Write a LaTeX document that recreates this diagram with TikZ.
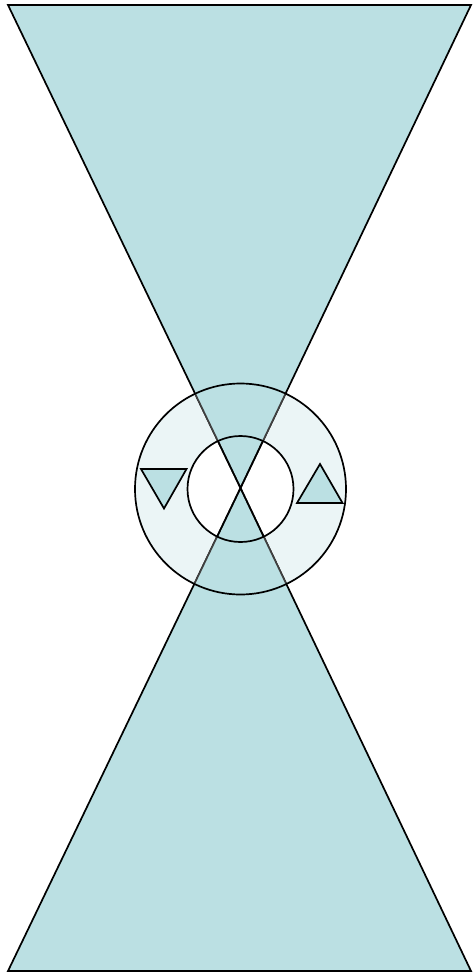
\documentclass[tikz,border=0pt]{standalone}
\definecolor{teal1}{HTML}{BBE0E3}
\definecolor{teal2}{HTML}{EBF5F6}
\begin{document}
\begin{tikzpicture}[x=1pt,y=-1pt,
  edge/.style={draw=black,line width=1.7pt,line join=miter},
  tri/.style={fill=teal1,draw=black,line width=1.7pt}]
\useasboundingbox (0,0) rectangle (473,974);
\coordinate (c) at (240.5,489);
\coordinate (tl) at (8,5);
\coordinate (tr) at (471,5);
\coordinate (bl) at (8,971);
\coordinate (br) at (471,971);
\coordinate (ap) at (240.5,488);
% annulus fill
\fill[teal2] (c) circle (105.5);
\fill[white] (c) circle (53);
% hourglass
\fill[teal1] (tl) -- (tr) -- (ap) -- cycle;
\fill[teal1] (bl) -- (br) -- (ap) -- cycle;
\draw[edge] (tl) -- (tr) -- (ap) -- cycle;
\draw[edge] (bl) -- (br) -- (ap) -- cycle;
\begin{scope}
\clip (c) circle (105.5);
\fill[white] (c) circle (53);
\fill[teal1] (tl) -- (tr) -- (ap) -- cycle;
\fill[teal1] (bl) -- (br) -- (ap) -- cycle;
\draw[edge,draw=black!75] (tl) -- (ap) -- (tr);
\draw[edge,draw=black!75] (bl) -- (ap) -- (br);
\end{scope}
\begin{scope}
\clip (c) circle (53);
\draw[edge] (tl) -- (ap) -- (tr);
\draw[edge] (bl) -- (ap) -- (br);
\end{scope}
\draw[edge] (c) circle (105.5);
\draw[edge] (c) circle (53);
% small triangles
\draw[tri] (141,469) -- (186.5,469) -- (164,508.5) -- cycle;
\draw[tri] (297,503) -- (342.5,503) -- (320,464) -- cycle;
\end{tikzpicture}
\end{document}
